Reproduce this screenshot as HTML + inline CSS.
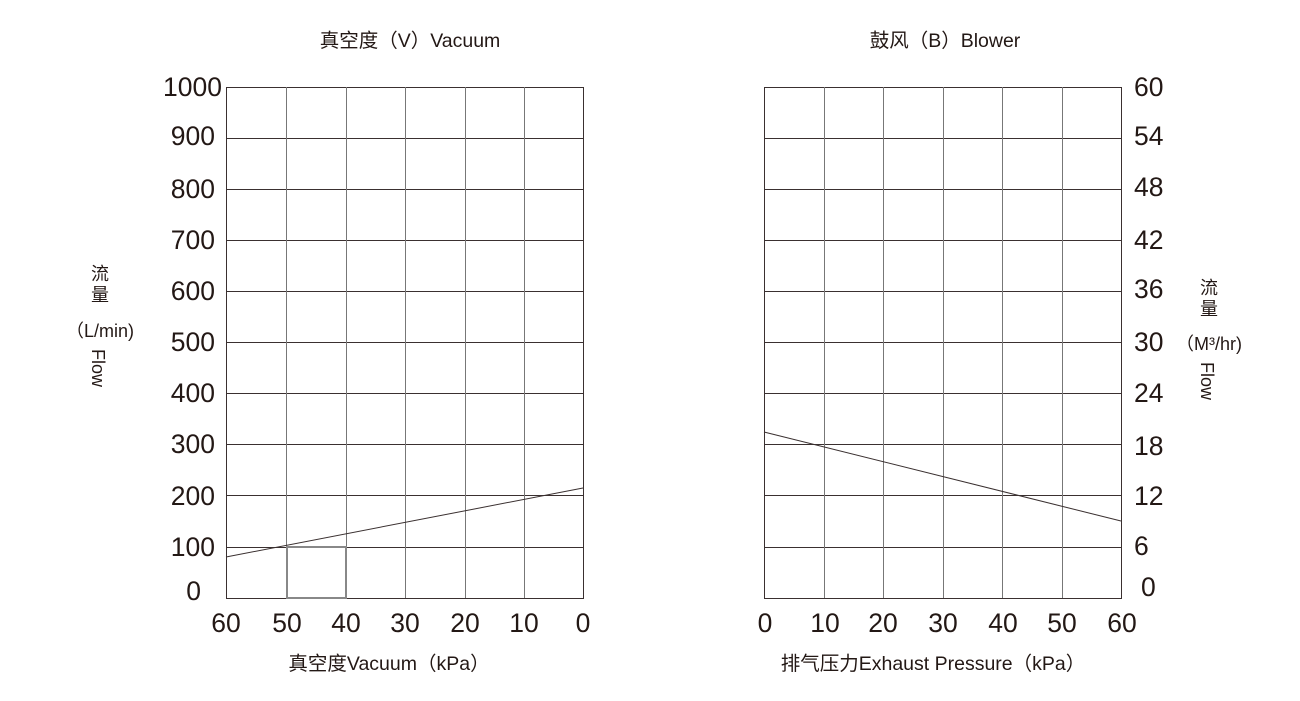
<!DOCTYPE html><html><head><meta charset="utf-8"><style>body{margin:0;background:#fff}svg{display:block}text{font-family:"Liberation Sans","Noto Sans CJK SC",sans-serif;fill:#231815}</style></head><body>
<svg width="1300" height="701" xmlns="http://www.w3.org/2000/svg">
<g stroke="#3a3030" stroke-width="1" fill="none">
<rect x="226.5" y="87.5" width="357" height="511"/>
<path d="M226 138.5H583M226 189.5H583M226 240.5H583M226 291.5H583M226 342.5H583M226 393.5H583M226 444.5H583M226 495.5H583M226 547.5H583"/>
<path d="M286.5 87V598M346.5 87V598M405.5 87V598M465.5 87V598M524.5 87V598" stroke="#777"/>
<rect x="287" y="547" width="59" height="51" stroke="#888" stroke-width="2"/>
<line x1="226" y1="557" x2="583" y2="488"/>
<rect x="764.5" y="87.5" width="357" height="511"/>
<path d="M764 138.5H1121M764 189.5H1121M764 240.5H1121M764 291.5H1121M764 342.5H1121M764 393.5H1121M764 444.5H1121M764 495.5H1121M764 547.5H1121"/>
<path d="M824.5 87V598M883.5 87V598M943.5 87V598M1002.5 87V598M1062.5 87V598" stroke="#777"/>
<line x1="764" y1="432" x2="1121" y2="521"/>
</g>
<g font-size="26.5" text-anchor="end">
<text x="222" y="96">1000</text><text x="215" y="145">900</text><text x="215" y="198">800</text><text x="215" y="249">700</text><text x="215" y="300">600</text><text x="215" y="351">500</text><text x="215" y="402">400</text><text x="215" y="453">300</text><text x="215" y="505">200</text><text x="215" y="556">100</text><text x="201" y="600">0</text>
</g>
<g font-size="26.5" text-anchor="start">
<text x="1134" y="96">60</text><text x="1134" y="145">54</text><text x="1134" y="196">48</text><text x="1134" y="249">42</text><text x="1134" y="298">36</text><text x="1134" y="351">30</text><text x="1134" y="402">24</text><text x="1134" y="455">18</text><text x="1134" y="505">12</text><text x="1134" y="555">6</text><text x="1141" y="596">0</text>
</g>
<g font-size="26.5" text-anchor="middle">
<text x="226" y="632">60</text><text x="287" y="632">50</text><text x="346" y="632">40</text><text x="405" y="632">30</text><text x="465" y="632">20</text><text x="524" y="632">10</text><text x="583" y="632">0</text>
<text x="765" y="632">0</text><text x="825" y="632">10</text><text x="883" y="632">20</text><text x="943" y="632">30</text><text x="1003" y="632">40</text><text x="1062" y="632">50</text><text x="1122" y="632">60</text>
</g>
<g font-size="19.5" text-anchor="middle">
<text x="410" y="47">真空度（V）Vacuum</text>
<text x="945" y="47">鼓风（B）Blower</text>
<text x="389" y="670">真空度Vacuum（kPa）</text>
<text x="933" y="670">排气压力Exhaust Pressure（kPa）</text>
</g>
<g font-size="18" text-anchor="middle">
<text x="100" y="280">流</text><text x="100" y="301">量</text>
<text x="100" y="337">（L/min)</text>
<text x="1209" y="294">流</text><text x="1209" y="315">量</text>
<text x="1209" y="350">（M³/hr)</text>
</g>
<text font-size="18" transform="translate(92,349) rotate(90)">Flow</text>
<text font-size="18" transform="translate(1201,362) rotate(90)">Flow</text>
</svg></body></html>
